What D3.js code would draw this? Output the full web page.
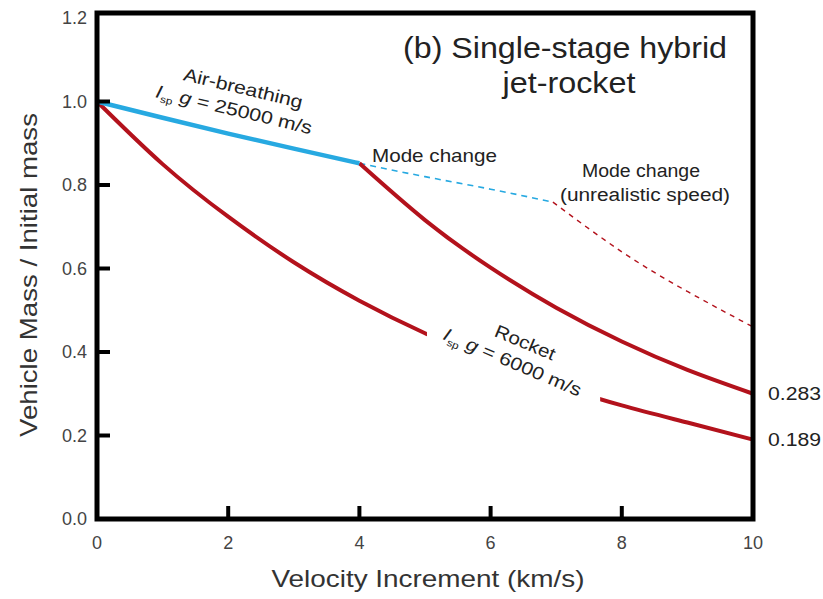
<!DOCTYPE html>
<html lang="en">
<head>
<meta charset="utf-8">
<title>Single-stage hybrid jet-rocket</title>
<script src="https://cdnjs.cloudflare.com/ajax/libs/d3/7.8.5/d3.min.js"></script>
<style>
  body { margin: 0; background: #fff; }
  svg { font-family: "Liberation Sans", Arial, sans-serif; }
</style>
</head>
<body>
<script>
// velocity increment (km/s) and mass ratio
var rocketV = [0, 1, 2, 3, 4, 5, 6, 7, 8, 9, 10];
var rocketM = [1.0, 0.85, 0.724, 0.615, 0.523, 0.445, 0.378, 0.321, 0.272, 0.231, 0.19];

var airV = [0, 1, 2, 3, 4];
var airM = [1.0, 0.961, 0.923, 0.887, 0.852];

var airDashV = [4, 5, 6, 6.95];
var airDashM = [0.852, 0.82, 0.79, 0.759];

var hybridV = [4, 5, 6, 7, 8, 9, 10];
var hybridM = [0.852, 0.716, 0.602, 0.506, 0.425, 0.357, 0.30];

var hybridDashV = [6.95, 8, 9, 10];
var hybridDashM = [0.759, 0.64, 0.545, 0.46];

var xTicks = [0, 2, 4, 6, 8, 10];
var yTicks = [0.0, 0.2, 0.4, 0.6, 0.8, 1.0, 1.2];
var endLabels = ["0.283", "0.189"];

var w = 823, h = 599;
var red = "#b3121c", blue = "#27a9e1";

var svg = d3.select("body").append("svg")
    .attr("width", w)
    .attr("height", h);

var x = d3.scaleLinear().domain([0, 10]).range([97, 753]);
var y = d3.scaleLinear().domain([0, 1.2]).range([519, 18]);

function pts(vs, ms) {
    return vs.map(function(v, i) { return [v, ms[i]]; });
}

var line = d3.line()
    .x(function(d) { return x(d[0]); })
    .y(function(d) { return y(d[1]); })
    .curve(d3.curveNatural);

// text stretched to the width it has in the figure
function label(sel, txt, len) {
    return sel.text(txt)
        .attr("textLength", len)
        .attr("lengthAdjust", "spacingAndGlyphs");
}

// gap in the lower rocket curve for its label
var clip = svg.append("clipPath").attr("id", "rgap");
clip.append("rect").attr("x", x(-0.5)).attr("y", 0)
    .attr("width", x(5.03) - x(-0.5)).attr("height", h);
clip.append("rect").attr("x", x(7.67)).attr("y", 0)
    .attr("width", x(10.5) - x(7.67)).attr("height", h);

// dashed "unrealistic" continuation
svg.append("path")
    .attr("d", line(pts(airDashV, airDashM)))
    .attr("fill", "none").attr("stroke", blue)
    .attr("stroke-width", 1.6).attr("stroke-dasharray", "6,5");

svg.append("path")
    .attr("d", line(pts(hybridDashV, hybridDashM)))
    .attr("fill", "none").attr("stroke", red)
    .attr("stroke-width", 1.4).attr("stroke-dasharray", "5,5");

// solid curves
svg.append("path")
    .attr("d", line(pts(rocketV, rocketM)))
    .attr("clip-path", "url(#rgap)")
    .attr("fill", "none").attr("stroke", red).attr("stroke-width", 4);

svg.append("path")
    .attr("d", line(pts(hybridV, hybridM)))
    .attr("fill", "none").attr("stroke", red).attr("stroke-width", 4);

svg.append("path")
    .attr("d", line(pts(airV, airM)))
    .attr("fill", "none").attr("stroke", blue).attr("stroke-width", 4.5);

// frame
svg.append("rect")
    .attr("x", 97).attr("y", 13)
    .attr("width", 753 - 97).attr("height", 519 - 13)
    .attr("fill", "none").attr("stroke", "#000").attr("stroke-width", 5);

// ticks pointing inward
svg.selectAll(".yt").data(yTicks.slice(1, 6)).enter().append("line")
    .attr("x1", 97).attr("x2", 110)
    .attr("y1", function(d) { return y(d); })
    .attr("y2", function(d) { return y(d); })
    .attr("stroke", "#000").attr("stroke-width", 4);

svg.selectAll(".xt").data(xTicks.slice(1, 5)).enter().append("line")
    .attr("x1", function(d) { return x(d); })
    .attr("x2", function(d) { return x(d); })
    .attr("y1", 519).attr("y2", 506)
    .attr("stroke", "#000").attr("stroke-width", 4);

svg.selectAll(".yl").data(yTicks).enter().append("text")
    .attr("x", 87)
    .attr("y", function(d) { return y(d) + 6; })
    .attr("text-anchor", "end")
    .attr("font-size", 18).attr("fill", "#444")
    .text(function(d) { return d.toFixed(1); });

svg.selectAll(".xl").data(xTicks).enter().append("text")
    .attr("x", function(d) { return x(d); })
    .attr("y", 549)
    .attr("text-anchor", "middle")
    .attr("font-size", 18).attr("fill", "#444")
    .text(function(d) { return d; });

// axis titles
label(svg.append("text")
    .attr("x", 428).attr("y", 587)
    .attr("text-anchor", "middle")
    .attr("font-size", 24).attr("fill", "#333"),
    "Velocity Increment (km/s)", 313);

label(svg.append("text")
    .attr("transform", "translate(37,275) rotate(-90)")
    .attr("text-anchor", "middle")
    .attr("font-size", 24).attr("fill", "#333"),
    "Vehicle Mass / Initial mass", 324);

// end values
svg.selectAll(".el").data([hybridM[hybridM.length - 1], rocketM[rocketM.length - 1]])
    .enter().append("text")
    .attr("x", 768)
    .attr("y", function(d) { return y(d) + 6; })
    .attr("font-size", 18).attr("fill", "#222")
    .attr("textLength", 53).attr("lengthAdjust", "spacingAndGlyphs")
    .text(function(d, i) { return endLabels[i]; });

// title
var title = svg.append("text")
    .attr("text-anchor", "middle")
    .attr("font-size", 29).attr("fill", "#222");
label(title.append("tspan").attr("x", 565).attr("y", 58), "(b) Single-stage hybrid", 324);
label(title.append("tspan").attr("x", 569).attr("y", 93), "jet-rocket", 133);

// annotations
label(svg.append("text")
    .attr("x", 372).attr("y", 162)
    .attr("font-size", 19).attr("fill", "#222"),
    "Mode change", 125);

var mc = svg.append("text")
    .attr("text-anchor", "middle")
    .attr("font-size", 18).attr("fill", "#222");
label(mc.append("tspan").attr("x", 641).attr("y", 177), "Mode change", 118);
label(mc.append("tspan").attr("x", 645).attr("y", 201), "(unrealistic speed)", 170);

function ispLabel(cx, cy, angle, top, topLen, value, botLen) {
    var g = svg.append("g")
        .attr("transform", "translate(" + cx + "," + cy + ") rotate(" + angle + ")");
    label(g.append("text")
        .attr("x", 4).attr("y", -8)
        .attr("text-anchor", "middle")
        .attr("font-size", 18).attr("fill", "#222"),
        top, topLen);
    var t = g.append("text")
        .attr("x", 0).attr("y", 15)
        .attr("text-anchor", "middle")
        .attr("font-size", 18).attr("fill", "#222")
        .attr("textLength", botLen).attr("lengthAdjust", "spacingAndGlyphs");
    t.append("tspan").attr("font-style", "italic").text("I");
    t.append("tspan").attr("font-size", 10).attr("dy", 4).text("sp");
    t.append("tspan").attr("dy", -4).attr("font-style", "italic").text(" g");
    t.append("tspan").text(" = " + value + " m/s");
}

ispLabel(236, 101, 13.5, "Air-breathing", 122, "25000", 160);
ispLabel(516, 354, 23, "Rocket", 64, "6000", 148);
</script>
</body>
</html>
